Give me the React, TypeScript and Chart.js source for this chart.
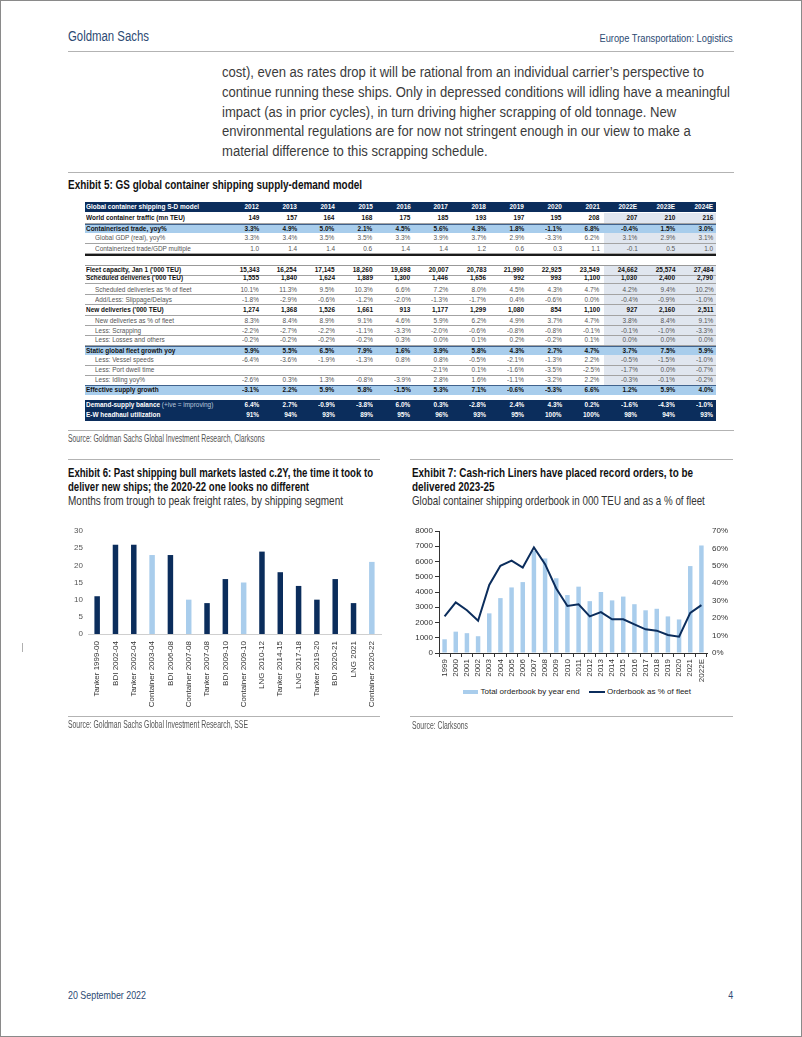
import React, { useEffect, useRef } from 'react';
import { Chart, registerables } from 'chart.js';
Chart.register(...registerables);

const W = 802, H = 1037;
const FONT = "'Liberation Sans', Arial, sans-serif";
const NAVY = '#0b2d5c';
const LIGHT = '#a9cdec';
const BAND = '#a8cdec';
const SHADE = '#e0e6ef';
const INK_BLUE = '#2c4a73';

// ---------- text ----------
const headerLeft = 'Goldman Sachs';
const headerRight = 'Europe Transportation: Logistics';
const bodyLines = [
  'cost), even as rates drop it will be rational from an individual carrier\u2019s perspective to',
  'continue running these ships. Only in depressed conditions will idling have a meaningful',
  'impact (as in prior cycles), in turn driving higher scrapping of old tonnage. New',
  'environmental regulations are for now not stringent enough in our view to make a',
  'material difference to this scrapping schedule.',
];
const ex5Title = 'Exhibit 5: GS global container shipping supply-demand model';
const ex5Source = 'Source: Goldman Sachs Global Investment Research, Clarksons';
const ex6Title = ['Exhibit 6: Past shipping bull markets lasted c.2Y, the time it took to', 'deliver new ships; the 2020-22 one looks no different'];
const ex6Sub = 'Months from trough to peak freight rates, by shipping segment';
const ex6Source = 'Source: Goldman Sachs Global Investment Research, SSE';
const ex7Title = ['Exhibit 7: Cash-rich Liners have placed record orders, to be', 'delivered 2023-25'];
const ex7Sub = 'Global container shipping orderbook in 000 TEU and as a % of fleet';
const ex7Source = 'Source: Clarksons';
const ex7Legend = ['Total orderbook by year end', 'Orderbook as % of fleet'];
const footerDate = '20 September 2022';
const pageNo = '4';

// ---------- Exhibit 5 table ----------
const tableTitle = 'Global container shipping S-D model';
const years = ['2012', '2013', '2014', '2015', '2016', '2017', '2018', '2019', '2020', '2021', '2022E', '2023E', '2024E'];
const worldTraffic = ['149', '157', '164', '168', '175', '185', '193', '197', '195', '208', '207', '210', '216'];
const tradeYoy = ['3.3%', '4.9%', '5.0%', '2.1%', '4.5%', '5.6%', '4.3%', '1.8%', '-1.1%', '6.8%', '-0.4%', '1.5%', '3.0%'];
const gdpYoy = ['3.3%', '3.4%', '3.5%', '3.5%', '3.3%', '3.9%', '3.7%', '2.9%', '-3.3%', '6.2%', '3.1%', '2.9%', '3.1%'];
const tradeGdpMult = ['1.0', '1.4', '1.4', '0.6', '1.4', '1.4', '1.2', '0.6', '0.3', '1.1', '-0.1', '0.5', '1.0'];
const fleetCapacity = ['15,343', '16,254', '17,145', '18,260', '19,698', '20,007', '20,783', '21,990', '22,925', '23,549', '24,662', '25,574', '27,484'];
const schedDeliveries = ['1,555', '1,840', '1,624', '1,889', '1,300', '1,446', '1,656', '992', '993', '1,100', '1,030', '2,400', '2,790'];
const schedPct = ['10.1%', '11.3%', '9.5%', '10.3%', '6.6%', '7.2%', '8.0%', '4.5%', '4.3%', '4.7%', '4.2%', '9.4%', '10.2%'];
const slippage = ['-1.8%', '-2.9%', '-0.6%', '-1.2%', '-2.0%', '-1.3%', '-1.7%', '0.4%', '-0.6%', '0.0%', '-0.4%', '-0.9%', '-1.0%'];
const newDeliveries = ['1,274', '1,368', '1,526', '1,661', '913', '1,177', '1,299', '1,080', '854', '1,100', '927', '2,160', '2,511'];
const newDelPct = ['8.3%', '8.4%', '8.9%', '9.1%', '4.6%', '5.9%', '6.2%', '4.9%', '3.7%', '4.7%', '3.8%', '8.4%', '9.1%'];
const scrapping = ['-2.2%', '-2.7%', '-2.2%', '-1.1%', '-3.3%', '-2.0%', '-0.6%', '-0.8%', '-0.8%', '-0.1%', '-0.1%', '-1.0%', '-3.3%'];
const losses = ['-0.2%', '-0.2%', '-0.2%', '-0.2%', '0.3%', '0.0%', '0.1%', '0.2%', '-0.2%', '0.1%', '0.0%', '0.0%', '0.0%'];
const staticGrowth = ['5.9%', '5.5%', '6.5%', '7.9%', '1.6%', '3.9%', '5.8%', '4.3%', '2.7%', '4.7%', '3.7%', '7.5%', '5.9%'];
const vesselSpeeds = ['-6.4%', '-3.6%', '-1.9%', '-1.3%', '0.8%', '0.8%', '-0.5%', '-2.1%', '-1.3%', '2.2%', '-0.5%', '-1.5%', '-1.0%'];
const portDwell = ['', '', '', '', '', '-2.1%', '0.1%', '-1.6%', '-3.5%', '-2.5%', '-1.7%', '0.0%', '-0.7%'];
const idling = ['-2.6%', '0.3%', '1.3%', '-0.8%', '-3.9%', '2.8%', '1.6%', '-1.1%', '-3.2%', '2.2%', '-0.3%', '-0.1%', '-0.2%'];
const effSupply = ['-3.1%', '2.2%', '5.9%', '5.8%', '-1.5%', '5.3%', '7.1%', '-0.6%', '-5.3%', '6.6%', '1.2%', '5.9%', '4.0%'];
const dsBalance = ['6.4%', '2.7%', '-0.9%', '-3.8%', '6.0%', '0.3%', '-2.8%', '2.4%', '4.3%', '0.2%', '-1.6%', '-4.3%', '-1.0%'];
const ewUtil = ['91%', '94%', '93%', '89%', '95%', '96%', '93%', '95%', '100%', '100%', '98%', '94%', '93%'];

type Kind = 'head' | 'bold' | 'sub' | 'band' | 'dark';
const tableRows: { label: string; note?: string; values: string[]; kind: Kind }[] = [
  { label: tableTitle, values: years, kind: 'head' },
  { label: 'World container traffic (mn TEU)', values: worldTraffic, kind: 'bold' },
  { label: 'Containerised trade, yoy%', values: tradeYoy, kind: 'band' },
  { label: 'Global GDP (real), yoy%', values: gdpYoy, kind: 'sub' },
  { label: 'Containerized trade/GDP multiple', values: tradeGdpMult, kind: 'sub' },
  { label: "Fleet capacity, Jan 1 ('000 TEU)", values: fleetCapacity, kind: 'bold' },
  { label: "Scheduled deliveries ('000 TEU)", values: schedDeliveries, kind: 'bold' },
  { label: 'Scheduled deliveries as % of fleet', values: schedPct, kind: 'sub' },
  { label: 'Add/Less: Slippage/Delays', values: slippage, kind: 'sub' },
  { label: "New deliveries ('000 TEU)", values: newDeliveries, kind: 'bold' },
  { label: 'New deliveries as % of fleet', values: newDelPct, kind: 'sub' },
  { label: 'Less: Scrapping', values: scrapping, kind: 'sub' },
  { label: 'Less: Losses and others', values: losses, kind: 'sub' },
  { label: 'Static global fleet growth yoy', values: staticGrowth, kind: 'band' },
  { label: 'Less: Vessel speeds', values: vesselSpeeds, kind: 'sub' },
  { label: 'Less: Port dwell time', values: portDwell, kind: 'sub' },
  { label: 'Less: Idling yoy%', values: idling, kind: 'sub' },
  { label: 'Effective supply growth', values: effSupply, kind: 'band' },
  { label: 'Demand-supply balance', note: ' (+ive = improving)', values: dsBalance, kind: 'dark' },
  { label: 'E-W headhaul utilization', values: ewUtil, kind: 'dark' },
];
// layout (row centres, px)
const rowY = [207, 218.3, 228.5, 238, 248.5, 270, 278, 289.5, 299.5, 310, 320.5, 330.5, 340.3, 350.5, 360.3, 370, 380, 390.2, 405, 415.3];

// ---------- Exhibit 6 ----------
const segLabels = ['Tanker 1999-00', 'BDI 2002-04', 'Tanker 2002-04', 'Container 2003-04', 'BDI 2006-08', 'Container 2007-08', 'Tanker 2007-08', 'BDI 2009-10', 'Container 2009-10', 'LNG 2010-12', 'Tanker 2014-15', 'LNG 2017-18', 'Tanker 2019-20', 'BDI 2020-21', 'LNG 2021', 'Container 2020-22'];
const segMonths = [11, 26, 26, 23, 23, 10, 9, 16, 15, 24, 18, 14, 10, 16, 9, 21];

// ---------- Exhibit 7 ----------
const obYears = ['1999', '2000', '2001', '2002', '2003', '2004', '2005', '2006', '2007', '2008', '2009', '2010', '2011', '2012', '2013', '2014', '2015', '2016', '2017', '2018', '2019', '2020', '2021', '2022E'];
const obTEU = [900, 1400, 1300, 1100, 2600, 3600, 4300, 4650, 6700, 6200, 4900, 3800, 4350, 3400, 4000, 3450, 3700, 3200, 2800, 2900, 2400, 2200, 5700, 7050];
const obPct = [21, 29, 24.5, 18.5, 39, 50, 53, 49, 60.6, 51, 37, 27, 28, 21, 23.5, 19.3, 19.3, 16.4, 13.6, 12.8, 10.3, 9.4, 23, 27.5];

// ---------- helpers ----------
let mctx: CanvasRenderingContext2D | null = null;
function fit(text: string, size: number, bold: boolean, target: number) {
  if (!mctx) mctx = document.createElement('canvas').getContext('2d');
  mctx!.font = `${bold ? 'bold ' : ''}${size}px 'Liberation Sans'`;
  return target / mctx!.measureText(text).width;
}

type TP = { x: number; y: number; size: number; sx?: number; bold?: boolean; color?: string; align?: 'left' | 'right'; children: React.ReactNode };
function T({ x, y, size, sx = 1, bold = false, color = '#222', align = 'left', children }: TP) {
  const st: React.CSSProperties = {
    position: 'absolute', top: y - size * 0.62, whiteSpace: 'nowrap', fontFamily: FONT, fontSize: size,
    fontWeight: bold ? 700 : 400, color, lineHeight: `${size * 1.2}px`,
    transform: `scaleX(${sx})`, transformOrigin: align === 'right' ? '100% 50%' : '0 50%',
  };
  if (align === 'right') st.right = W - x; else st.left = x;
  return <div style={st}>{children}</div>;
}
function R({ x, y, w, h, c, extra }: { x: number; y: number; w: number; h: number; c: string; extra?: React.CSSProperties }) {
  return <div style={{ position: 'absolute', left: x, top: y, width: w, height: h, background: c, ...extra }} />;
}

export default function App() {
  const c6 = useRef<HTMLCanvasElement>(null);
  const c7 = useRef<HTMLCanvasElement>(null);

  useEffect(() => {
    Chart.defaults.font.family = 'Liberation Sans';
    const tickFont = { family: 'Liberation Sans', size: 8 };
    const ch6 = new Chart(c6.current!, {
      type: 'bar',
      data: {
        labels: segLabels,
        datasets: [{
          data: segMonths,
          backgroundColor: segLabels.map((l) => (l.startsWith('Container') ? LIGHT : NAVY)),
          barPercentage: 0.3, categoryPercentage: 1,
        }],
      },
      options: {
        responsive: false, animation: false, devicePixelRatio: 1,
        layout: { padding: { top: 11, right: 14, left: 0, bottom: 0 } },
        plugins: { legend: { display: false }, tooltip: { enabled: false } },
        scales: {
          x: {
            grid: { display: false, drawTicks: false },
            border: { display: true, color: '#cfcfcf', width: 1 },
            ticks: { autoSkip: false, minRotation: 90, maxRotation: 90, padding: 7, color: '#333', font: tickFont },
            afterFit: (s: any) => { s.height = 86; },
          },
          y: {
            min: 0, max: 30,
            grid: { display: false, drawTicks: false },
            border: { display: false },
            ticks: { stepSize: 5, padding: 5, color: '#555', font: tickFont },
            afterFit: (s: any) => { s.width = 28; },
          },
        },
      } as any,
    });
    const ch7 = new Chart(c7.current!, {
      type: 'bar',
      data: {
        labels: obYears,
        datasets: [
          { type: 'line', label: ex7Legend[1], data: obPct, yAxisID: 'y1', borderColor: NAVY, borderWidth: 2, pointRadius: 0, tension: 0, order: 0 } as any,
          { type: 'bar', label: ex7Legend[0], data: obTEU, yAxisID: 'y', backgroundColor: LIGHT, barPercentage: 0.4, categoryPercentage: 1, order: 1 },
        ],
      },
      options: {
        responsive: false, animation: false, devicePixelRatio: 1,
        layout: { padding: { top: 11, right: 0, left: 0, bottom: 0 } },
        plugins: { legend: { display: false }, tooltip: { enabled: false } },
        scales: {
          x: {
            grid: { display: true, drawOnChartArea: false, drawTicks: true, tickLength: 4, color: '#333', offset: true },
            border: { display: true, color: '#333', width: 1 },
            ticks: { autoSkip: false, minRotation: 90, maxRotation: 90, padding: 2, color: '#333', font: tickFont },
            afterFit: (s: any) => { s.height = 32; },
          },
          y: {
            position: 'left', min: 0, max: 8000,
            grid: { display: true, drawOnChartArea: false, drawTicks: true, tickLength: 4, color: '#333' },
            border: { display: true, color: '#333', width: 1 },
            ticks: { stepSize: 1000, padding: 2, color: '#333', font: tickFont, callback: (v: any) => String(v) },
            afterFit: (s: any) => { s.width = 34; },
          },
          y1: {
            position: 'right', min: 0, max: 70,
            grid: { display: false, drawTicks: false },
            border: { display: false },
            ticks: { stepSize: 10, padding: 5, color: '#333', font: tickFont, callback: (v: any) => `${v}%` },
            afterFit: (s: any) => { s.width = 40; },
          },
        },
      } as any,
    });
    return () => { ch6.destroy(); ch7.destroy(); };
  }, []);

  // text scales
  const sGs = fit(headerLeft, 14, false, 81);
  const sHr = fit(headerRight, 11, false, 133.5);
  const sBody = fit(bodyLines[1], 14, false, 508);
  const sEx5 = fit(ex5Title, 12.5, true, 294);
  const sTab = fit(tableTitle, 8, true, 113);
  const sSrc = fit(ex6Source, 10, false, 180);
  const sT6 = fit(ex6Title[0], 13, true, 305);
  const sS6 = fit(ex6Sub, 13, false, 275);
  const sT7 = fit(ex7Title[0], 13, true, 281);
  const sS7 = fit(ex7Sub, 13, false, 293);
  const sFoot = fit(footerDate, 11, false, 78);

  const colRight = years.map((_, i) => 259 + i * 37.85);
  const TL = 85, TR = 716, TW = TR - TL;

  const tableEls: React.ReactNode[] = [];
  // forecast shading
  tableEls.push(<R key="sh1" x={604} y={213.2} w={TR - 604} h={41} c={SHADE} />);
  tableEls.push(<R key="sh2" x={604} y={265} w={TR - 604} h={120.2} c={SHADE} />);
  tableRows.forEach((row, i) => {
    const y = rowY[i];
    if (row.kind === 'head') tableEls.push(<R key={`b${i}`} x={TL} y={y - 5} w={TW} h={10.3} c={NAVY} />);
    if (row.kind === 'dark') tableEls.push(<R key={`b${i}`} x={TL} y={y - 5.3} w={TW} h={10.7} c={NAVY} />);
    if (row.kind === 'band') tableEls.push(<R key={`b${i}`} x={TL} y={y - 4.8} w={TW} h={9.6} c={BAND} extra={{ borderTop: '1px solid #40628c', boxSizing: 'border-box' }} />);
    if (row.kind === 'bold' || row.kind === 'sub') tableEls.push(<R key={`l${i}`} x={TL} y={y + 4.6} w={TW} h={1} c="#a3a3a3" />);
  });
  tableEls.push(<R key="thick" x={TL} y={253.6} w={TW} h={2} c="#1a1a1a" />);
  tableEls.push(<R key="fl" x={TL} y={264.8} w={TW} h={1.2} c="#999" />);
  tableRows.forEach((row, i) => {
    const y = rowY[i];
    const white = row.kind === 'head' || row.kind === 'dark';
    const bold = row.kind !== 'sub';
    const color = white ? '#fff' : row.kind === 'sub' ? '#555' : '#111';
    const lx = row.kind === 'sub' ? 94.5 : 86;
    tableEls.push(
      <T key={`t${i}`} x={lx} y={y} size={8} sx={sTab} bold={bold} color={color}>
        {row.label}
        {row.note ? <span style={{ fontWeight: 400, color: '#b9c7dc' }}>{row.note}</span> : null}
      </T>
    );
    row.values.forEach((v, j) => {
      if (!v) return;
      tableEls.push(<T key={`v${i}_${j}`} x={colRight[j]} y={y} size={8} sx={sTab} bold={bold} color={color} align="right">{v}</T>);
    });
  });

  return (
    <div style={{ position: 'absolute', left: 0, top: 0, width: W, height: H, background: '#fff', overflow: 'hidden', fontFamily: FONT }}>
      {/* header */}
      <T x={68} y={37} size={14} sx={sGs} color={INK_BLUE}>{headerLeft}</T>
      <T x={733} y={38.5} size={11} sx={sHr} color={INK_BLUE} align="right">{headerRight}</T>
      <R x={68} y={50.5} w={666} h={1.6} c="#b3b3b3" />
      {bodyLines.map((l, i) => (
        <T key={i} x={222} y={73 + i * 19.6} size={14} sx={sBody} color="#3b3b3b">{l}</T>
      ))}
      <R x={68} y={171.5} w={666} h={1.6} c="#b3b3b3" />
      {/* exhibit 5 */}
      <T x={68} y={186} size={12.5} sx={sEx5} bold color="#111">{ex5Title}</T>
      {tableEls}
      <R x={68} y={429.5} w={666} h={1.2} c="#b3b3b3" />
      <T x={68} y={439} size={10} sx={sSrc} color="#555">{ex5Source}</T>
      <R x={68} y={458.5} w={312} h={1.2} c="#b3b3b3" />
      <R x={410} y={458.5} w={323} h={1.2} c="#b3b3b3" />
      {/* exhibit 6 */}
      <T x={68} y={473} size={13} sx={sT6} bold color="#111">{ex6Title[0]}</T>
      <T x={68} y={487} size={13} sx={sT6} bold color="#111">{ex6Title[1]}</T>
      <T x={68} y={501} size={13} sx={sS6} color="#333">{ex6Sub}</T>
      <canvas ref={c6} width={335} height={200} style={{ position: 'absolute', left: 60, top: 520, width: 335, height: 200 }} />
      <R x={22} y={643} w={1} h={9} c="#b0b0b0" />
      <R x={68} y={716} w={312} h={1.2} c="#b3b3b3" />
      <T x={68} y={725} size={10} sx={sSrc} color="#555">{ex6Source}</T>
      {/* exhibit 7 */}
      <T x={412} y={473} size={13} sx={sT7} bold color="#111">{ex7Title[0]}</T>
      <T x={412} y={487} size={13} sx={sT7} bold color="#111">{ex7Title[1]}</T>
      <T x={412} y={501} size={13} sx={sS7} color="#333">{ex7Sub}</T>
      <canvas ref={c7} width={342} height={165} style={{ position: 'absolute', left: 405, top: 520, width: 342, height: 165 }} />
      <R x={463} y={690} w={15} h={4} c={LIGHT} />
      <T x={480.5} y={692} size={8} color="#222">{ex7Legend[0]}</T>
      <R x={589} y={691} w={16} h={2} c={NAVY} />
      <T x={607} y={692} size={8} color="#222">{ex7Legend[1]}</T>
      <R x={410} y={716} w={323} h={1.2} c="#b3b3b3" />
      <T x={411.5} y={726} size={10} sx={sSrc} color="#555">{ex7Source}</T>
      {/* footer */}
      <T x={68} y={996} size={11} sx={sFoot} color={INK_BLUE}>{footerDate}</T>
      <T x={733} y={996} size={11} sx={sFoot} color={INK_BLUE} align="right">{pageNo}</T>
      <div style={{ position: 'absolute', left: 0, top: 0, width: W, height: H, border: '1px solid #8a8a8a', boxSizing: 'border-box', pointerEvents: 'none' }} />
    </div>
  );
}
